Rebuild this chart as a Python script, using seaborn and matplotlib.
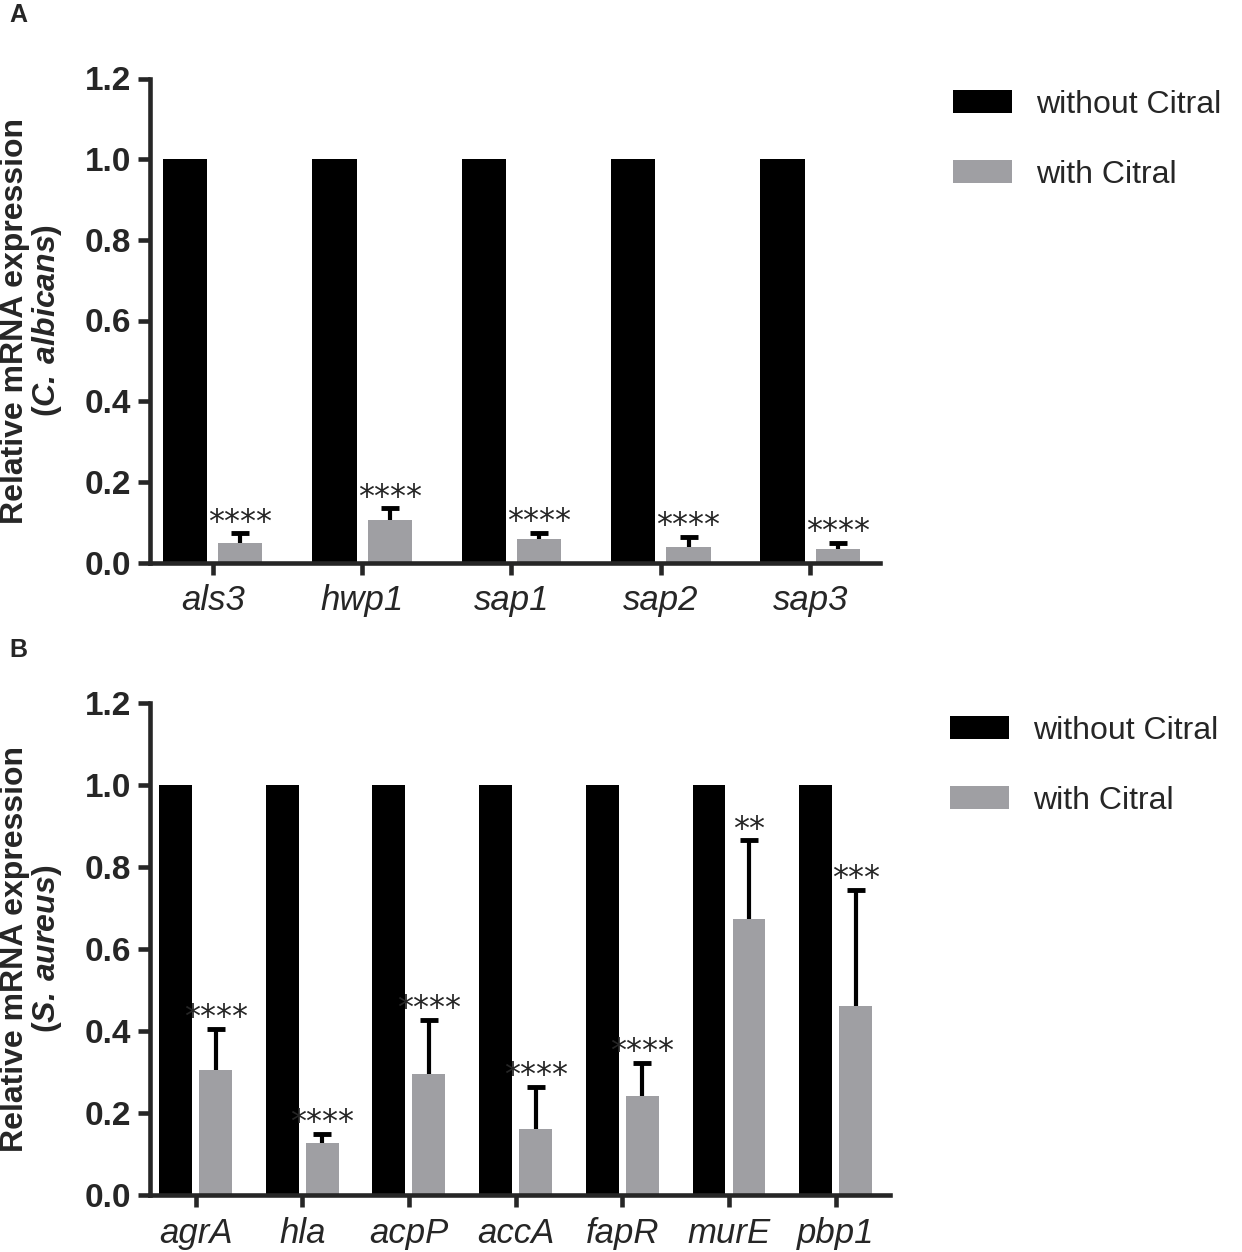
import numpy as np
import pandas as pd
import seaborn as sns
import matplotlib.pyplot as plt
from matplotlib.patches import Patch


# Panel A: C. albicans genes
genes_a = ["als3", "hwp1", "sap1", "sap2", "sap3"]
without_a = [1.0, 1.0, 1.0, 1.0, 1.0]
with_a = [0.049, 0.106, 0.059, 0.038, 0.034]
err_a = [0.023, 0.028, 0.015, 0.026, 0.015]
stars_a = ["****", "****", "****", "****", "****"]

# Panel B: S. aureus genes
genes_b = ["agrA", "hla", "acpP", "accA", "fapR", "murE", "pbp1"]
without_b = [1.0, 1.0, 1.0, 1.0, 1.0, 1.0, 1.0]
with_b = [0.304, 0.127, 0.296, 0.160, 0.241, 0.672, 0.462]
err_b = [0.101, 0.022, 0.132, 0.103, 0.082, 0.193, 0.282]
stars_b = ["****", "****", "****", "****", "****", "**", "***"]

conditions = ["without Citral", "with Citral"]
colors = {"without Citral": "#000000", "with Citral": "#9f9fa3"}

sns.set_style("ticks")
plt.rcParams["font.family"] = ["Liberation Sans", "DejaVu Sans"]
plt.rcParams["mathtext.fontset"] = "custom"
plt.rcParams["mathtext.rm"] = "Liberation Sans:bold"
plt.rcParams["mathtext.bf"] = "Liberation Sans:bold"
plt.rcParams["mathtext.it"] = "Liberation Sans:italic"
plt.rcParams["mathtext.bfit"] = "Liberation Sans:italic:bold"


def draw_panel(ax, genes, without, with_vals, err, stars, species, width, gap, xlim):
    df = pd.DataFrame({
        "gene": genes * 2,
        "condition": [conditions[0]] * len(genes) + [conditions[1]] * len(genes),
        "value": list(without) + list(with_vals),
    })
    sns.barplot(data=df, x="gene", y="value", hue="condition", hue_order=conditions,
                palette=colors, width=width, gap=gap, errorbar=None, linewidth=0,
                saturation=1, legend=False, ax=ax)

    # one-sided error bars on the treated bars
    xs = [b.get_x() + b.get_width() / 2 for b in ax.containers[1]]
    _, caps, _ = ax.errorbar(xs, with_vals, yerr=[np.zeros(len(err)), err], fmt="none",
                             ecolor="black", elinewidth=3, capsize=6.5, capthick=3.5, zorder=5)
    for c in caps:
        if np.allclose(c.get_ydata(), with_vals):
            c.set_visible(False)

    # significance stars above the error caps
    tops = np.array(with_vals) + np.array(err)
    for x, t, s in zip(xs, tops, stars):
        ax.annotate(s, (x, t), xytext=(0, 2), textcoords="offset points",
                    ha="center", va="baseline", fontsize=23, family="DejaVu Sans")

    ax.set_xlim(*xlim)
    ax.set_ylim(0, 1.2)
    ax.set_yticks(np.arange(0, 1.21, 0.2))
    ax.set_yticklabels([f"{v:.1f}" for v in np.arange(0, 1.21, 0.2)])
    sns.despine(ax=ax)
    for side in ["left", "bottom"]:
        ax.spines[side].set_linewidth(3.3)
    ax.tick_params(axis="both", length=8.5, width=3.3, labelsize=24, pad=5)
    ax.tick_params(axis="x", pad=7)
    for lbl in ax.get_yticklabels():
        lbl.set_fontweight("bold")
    for lbl in ax.get_xticklabels():
        lbl.set_fontstyle("italic")
        lbl.set_fontsize(25)
    ax.set_xlabel("")
    ax.set_ylabel("Relative mRNA expression\n" + species, fontsize=23,
                  fontweight="bold", linespacing=1.0)
    ax.yaxis.label.set_multialignment("center")
    ax.yaxis.set_label_coords((64 - 150) / (ax.get_position().width * 1242), 0.5)


fig = plt.figure(figsize=(12.42, 12.52), dpi=100)
ax_a = fig.add_axes([150 / 1242, 1 - 562.5 / 1252, 730 / 1242, 484 / 1252])
ax_b = fig.add_axes([150 / 1242, 1 - 1195 / 1252, 740 / 1242, 492 / 1252])

draw_panel(ax_a, genes_a, without_a, with_a, err_a, stars_a,
           r"$\mathbf{(}\mathbfit{C.\:albicans}\mathbf{)}$", 0.74, 0.2, (-0.42, 4.467))
draw_panel(ax_b, genes_b, without_b, with_b, err_b, stars_b,
           r"$\mathbf{(}\mathbfit{S.\:aureus}\mathbf{)}$", 0.75, 0.18, (-0.427, 6.51))

handles = [Patch(facecolor=colors[c], edgecolor="none") for c in conditions]
for top_px, left_px in [(90, 953), (716, 950)]:
    fig.legend(handles, conditions, loc="upper left",
               bbox_to_anchor=(left_px / 1242, 1 - top_px / 1252),
               frameon=False, fontsize=23, handlelength=1.85, handleheight=0.72,
               handletextpad=0.75, labelspacing=1.25, borderpad=0, borderaxespad=0)

fig.text(9 / 1242, 1 - 3 / 1252, "A", fontsize=18, fontweight="bold", va="top", ha="left")
fig.text(9 / 1242, 1 - 638 / 1252, "B", fontsize=18, fontweight="bold", va="top", ha="left")

fig.savefig("out.png", dpi=100)
